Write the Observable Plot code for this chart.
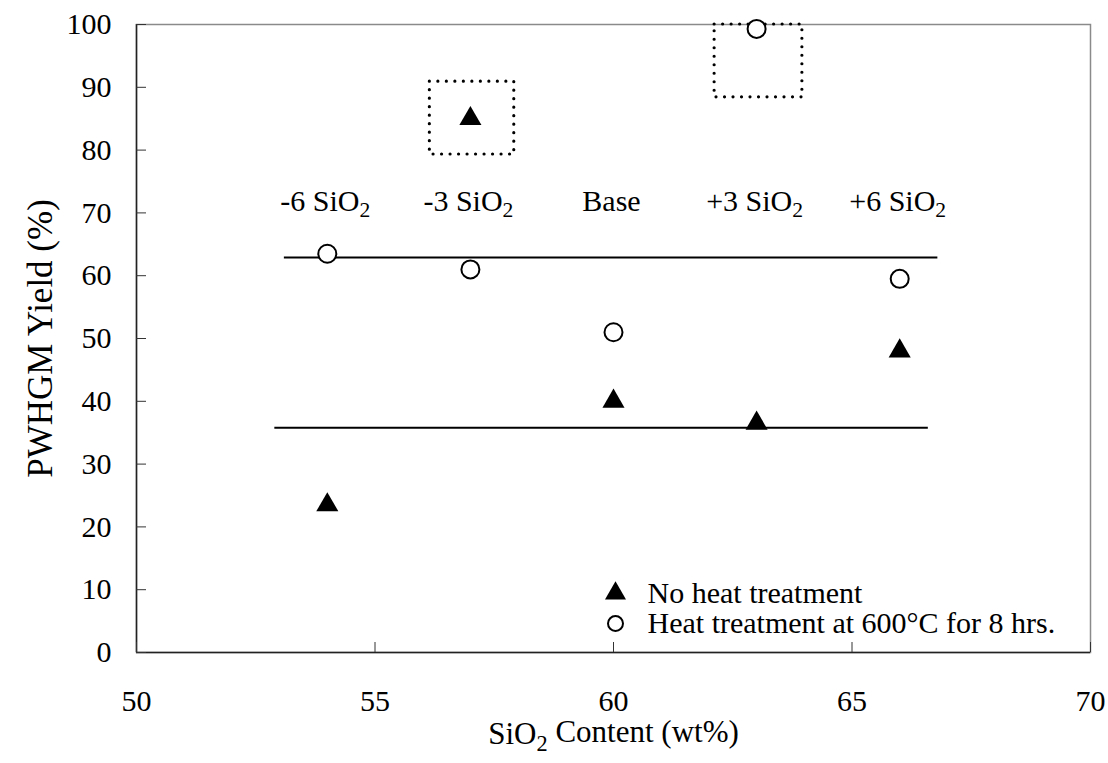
<!DOCTYPE html>
<html><head><meta charset="utf-8">
<script src="https://cdn.jsdelivr.net/npm/d3@7"></script>
<script src="https://cdn.jsdelivr.net/npm/@observablehq/plot@0.6"></script>
<style>
body{margin:0;background:#fff;}
#chart svg{font-family:"Liberation Serif","Times New Roman",serif;background:#fff;}
</style></head><body><div id="chart"></div>
<script>
// ---- data ----
const sio2Content = [54, 57, 60, 63, 66];
const compositionLabels = ["-6 SiO2", "-3 SiO2", "Base", "+3 SiO2", "+6 SiO2"];
const yieldNoHeat = [23.5, 85, 40, 36.5, 48];
const yieldHeat = [63.5, 61, 51, 99.3, 59.5];
const averageLevels = [
  {series: "Heat treatment", y: 62.9, x1: 53.1, x2: 66.8},
  {series: "No heat treatment", y: 35.8, x1: 52.9, x2: 66.6}
];
const highlightBoxes = [
  {x1: 56.15, x2: 57.92, y1: 79.3, y2: 90.9},
  {x1: 62.12, x2: 63.96, y1: 88.4, y2: 100}
];
const labelRowY = 71.9;
const xTicks = [50, 55, 60, 65, 70];
const yTicks = [0, 10, 20, 30, 40, 50, 60, 70, 80, 90, 100];
const legendLabels = ["No heat treatment", "Heat treatment at 600°C for 8 hrs."];
const xLabel = "SiO2 Content (wt%)";
const yLabel = "PWHGM Yield (%)";

// ---- tables ----
const noHeat = sio2Content.map((x, i) => ({x, y: yieldNoHeat[i]}));
const heat = sio2Content.map((x, i) => ({x, y: yieldHeat[i]}));
const labels = sio2Content.map((x, i) => ({x, y: labelRowY, label: compositionLabels[i]}));

const W = 1108, H = 763, mL = 136, mR = 18, mT = 24, mB = 111;
const plotW = W - mL - mR, plotH = H - mT - mB;
const FS = 30;

const chart = Plot.plot({
  width: W, height: H,
  marginLeft: mL, marginRight: mR, marginTop: mT, marginBottom: mB,
  style: {fontFamily: '"Liberation Serif","Times New Roman",serif', fontSize: FS + "px", color: "black", background: "white"},
  x: {domain: [50, 70]},
  y: {domain: [0, 100]},
  marks: [
    Plot.frame({stroke: "#8a8a8a", strokeWidth: 1.5}),
    Plot.ruleX([50], {stroke: "#222", strokeWidth: 1.5}),
    Plot.ruleY([0], {stroke: "#222", strokeWidth: 1.5}),
    Plot.tickY(yTicks, {y: d => d, insetRight: plotW - 10, stroke: "#333", strokeWidth: 1}),
    Plot.tickX(xTicks, {x: d => d, insetTop: plotH - 10, stroke: "#333", strokeWidth: 1}),
    Plot.axisY({ticks: yTicks, tickSize: 0, tickPadding: 25, fontSize: FS, label: null}),
    Plot.axisX({ticks: xTicks, tickSize: 0, tickPadding: 37, fontSize: FS, label: null}),
    Plot.text([yLabel], {text: d => d, frameAnchor: "left", textAnchor: "middle", dx: -96, rotate: -90, fontSize: 35, lineAnchor: "middle"}),
    Plot.text([xLabel], {text: d => d, frameAnchor: "bottom", textAnchor: "middle", dy: 82, fontSize: 31, lineAnchor: "middle"}),
    Plot.ruleY(averageLevels, {y: "y", x1: "x1", x2: "x2", stroke: "black", strokeWidth: 2}),
    Plot.rect(highlightBoxes, {x1: "x1", x2: "x2", y1: "y1", y2: "y2", fill: "none", stroke: "black", strokeWidth: 3.2, strokeDasharray: "0,8.5", strokeLinecap: "round"}),
    Plot.text(labels, {x: "x", y: "y", text: "label", fontSize: FS, dx: -2, lineAnchor: "middle"}),
    Plot.dot(noHeat, {x: "x", y: "y", symbol: "triangle", fill: "black", r: 8.2}),
    Plot.dot(heat, {x: "x", y: "y", symbol: "circle", fill: "white", stroke: "black", strokeWidth: 2, r: 9}),
    // legend
    Plot.dot([legendLabels[0]], {frameAnchor: "bottom-left", dx: 479, dy: -59, symbol: "triangle", fill: "black", r: 7.8}),
    Plot.dot([legendLabels[1]], {frameAnchor: "bottom-left", dx: 479, dy: -29, symbol: "circle", fill: "white", stroke: "black", strokeWidth: 2, r: 7.5}),
    Plot.text([legendLabels[0]], {text: d => d, frameAnchor: "bottom-left", dx: 511, dy: -59, textAnchor: "start", fontSize: FS, lineAnchor: "middle"}),
    Plot.text([legendLabels[1]], {text: d => d, frameAnchor: "bottom-left", dx: 511, dy: -29, textAnchor: "start", fontSize: FS, lineAnchor: "middle"})
  ]
});
document.getElementById("chart").appendChild(chart);

// subscript the "2" in SiO2
d3.select(chart).selectAll("text, tspan").each(function() {
  if (this.children.length) return;
  const s = this.textContent;
  if (!s.includes("SiO2")) return;
  const parts = s.split("SiO2");
  const el = d3.select(this);
  el.text(null);
  parts.forEach((p, i) => {
    if (i > 0) {
      el.append("tspan").text("SiO");
      el.append("tspan").attr("dy", "0.3em").attr("font-size", "0.72em").text("2");
      el.append("tspan").attr("dy", "-0.3em").text(p || "");
    } else if (p) {
      el.append("tspan").text(p);
    }
  });
});
</script></body></html>
